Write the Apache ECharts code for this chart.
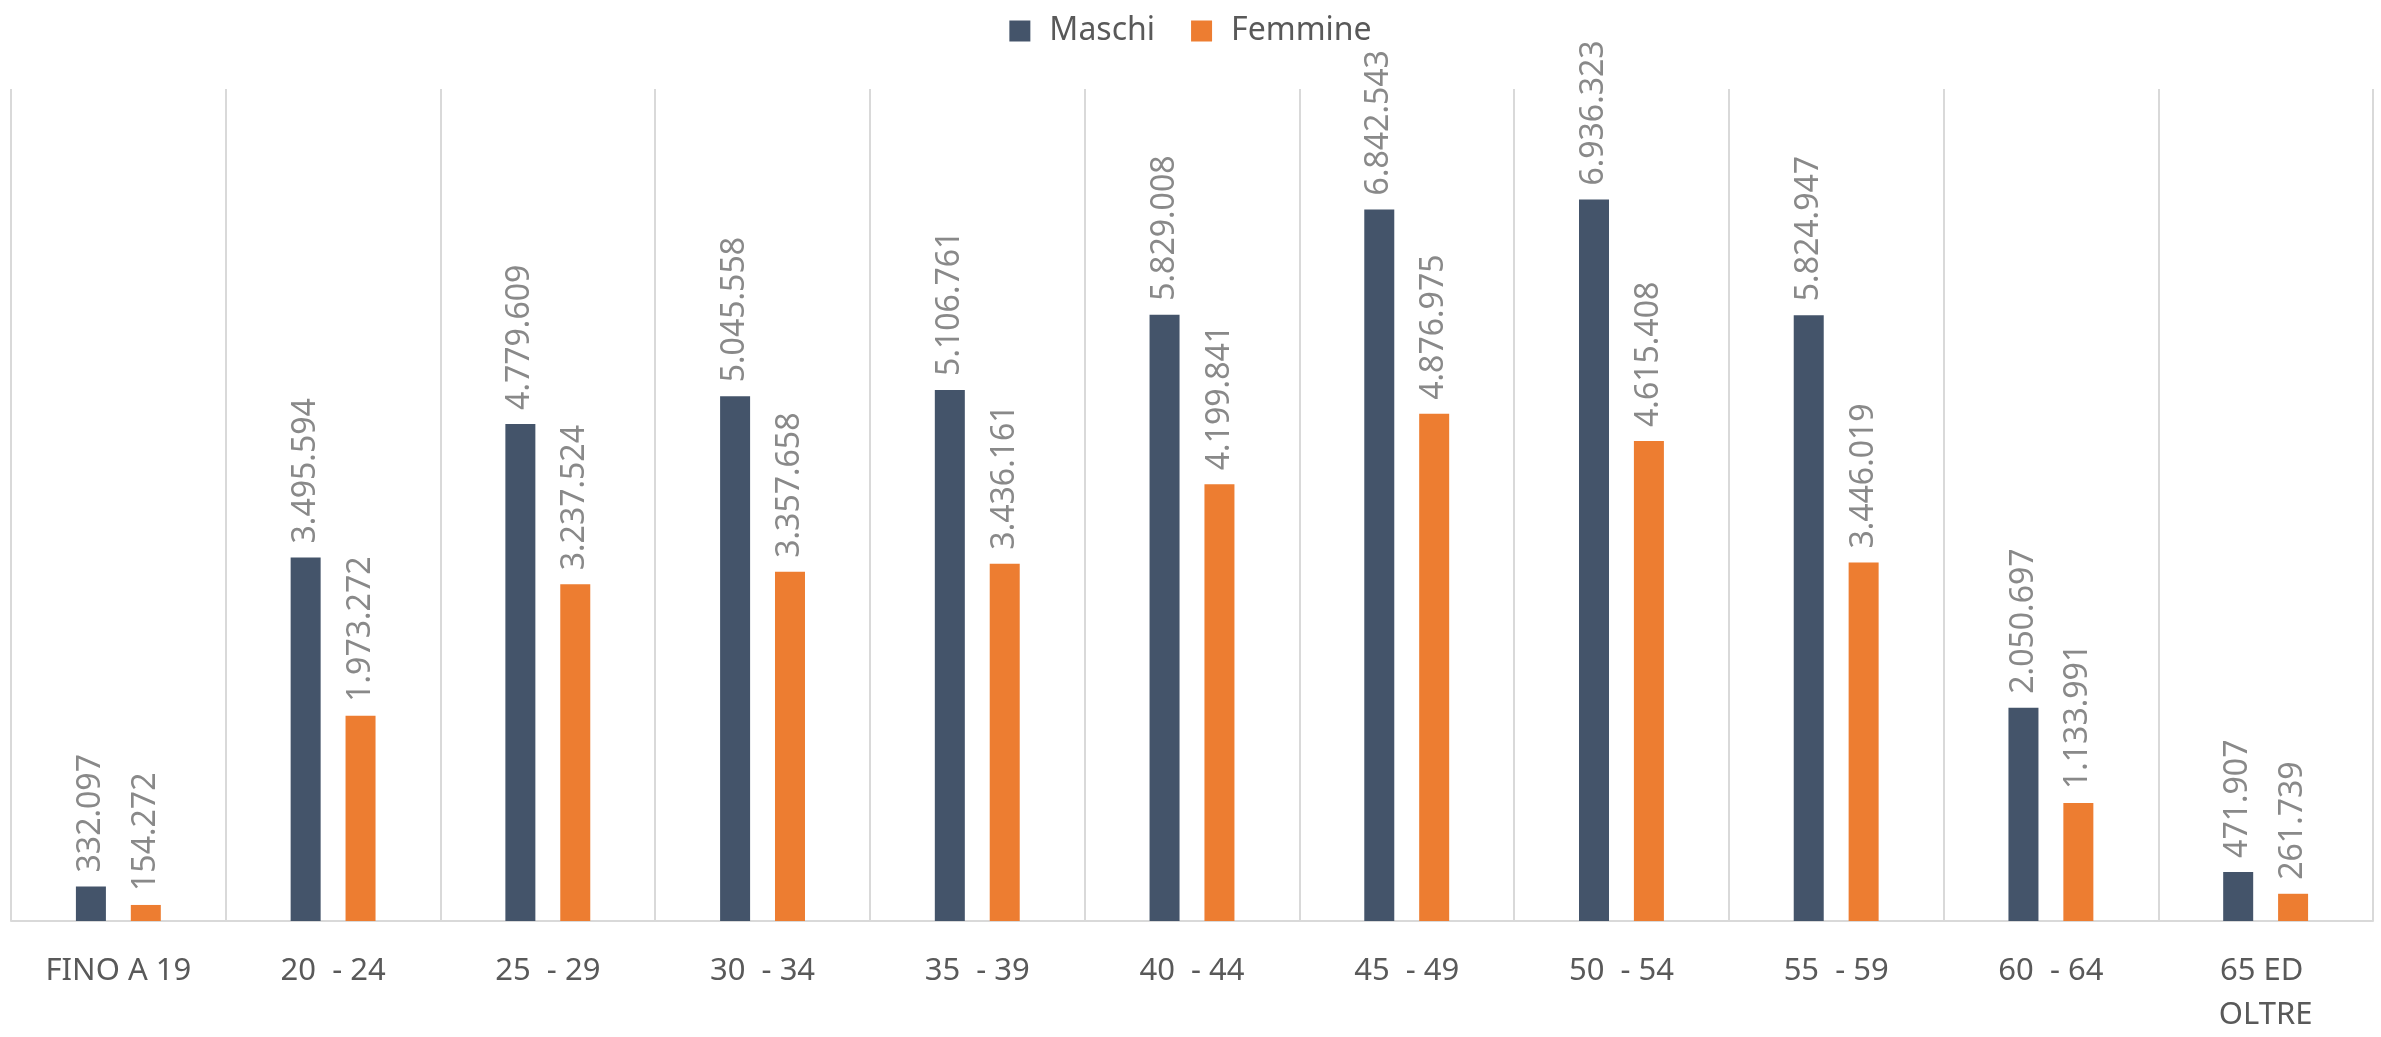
<!DOCTYPE html>
<html>
<head>
<meta charset="utf-8">
<script src="https://cdn.jsdelivr.net/npm/echarts@6/dist/echarts.min.js"></script>
<style>
    html, body { margin: 0; padding: 0; background: #fff; }
    #main { width: 2381px; height: 1037px; }
</style>
</head>
<body>
<div id="main"></div>
<script>
// fasce di età
var categorie = ['FINO A 19', '20  - 24', '25  - 29', '30  - 34', '35  - 39', '40  - 44', '45  - 49', '50  - 54', '55  - 59', '60  - 64', '65 ED OLTRE'];
var maschi = [332097, 3495594, 4779609, 5045558, 5106761, 5829008, 6842543, 6936323, 5824947, 2050697, 471907];
var femmine = [154272, 1973272, 3237524, 3357658, 3436161, 4199841, 4876975, 4615408, 3446019, 1133991, 261739];
var serieNomi = ['Maschi', 'Femmine'];

// separatore migliaia con il punto
function fmt(v) {
    return String(v).replace(/\B(?=(\d{3})+(?!\d))/g, '.');
}

var chart = echarts.init(document.getElementById('main'));

var labelStyle = {
    show: true,
    position: 'top',
    rotate: 90,
    align: 'left',
    verticalAlign: 'middle',
    distance: 14,
    color: '#898989',
    fontFamily: 'Noto Sans',
    fontSize: 32,
    formatter: function (p) {
        return fmt(p.value);
    }
};

var option = {
    animation: false,
    backgroundColor: '#fff',
    legend: {
        data: serieNomi,
        top: 10,
        left: 'center',
        itemWidth: 21,
        itemHeight: 21,
        itemGap: 36,
        icon: 'rect',
        textStyle: {
            color: '#595959',
            fontFamily: 'Noto Sans',
            fontSize: 32,
            padding: [0, 0, 0, 14]
        }
    },
    grid: {
        left: 11,
        right: 8,
        top: 89,
        bottom: 115
    },
    xAxis: {
        type: 'category',
        data: categorie,
        axisTick: { show: false },
        axisLine: {
            show: true,
            lineStyle: { color: '#d9d9d9', width: 2 }
        },
        splitLine: {
            show: true,
            lineStyle: { color: '#d9d9d9', width: 2 }
        },
        axisLabel: {
            interval: 0,
            margin: 28,
            color: '#595959',
            fontFamily: 'Noto Sans',
            fontSize: 31,
            lineHeight: 44,
            width: 150,
            overflow: 'break'
        }
    },
    yAxis: {
        type: 'value',
        min: 0,
        max: 8000000,
        show: false
    },
    series: [{
        name: serieNomi[0],
        type: 'bar',
        barWidth: 30,
        barGap: '83%',
        itemStyle: { color: '#44546a' },
        label: labelStyle,
        data: maschi
    }, {
        name: serieNomi[1],
        type: 'bar',
        barWidth: 30,
        itemStyle: { color: '#ed7d31' },
        label: labelStyle,
        data: femmine
    }]
};

chart.setOption(option);
</script>
</body>
</html>
